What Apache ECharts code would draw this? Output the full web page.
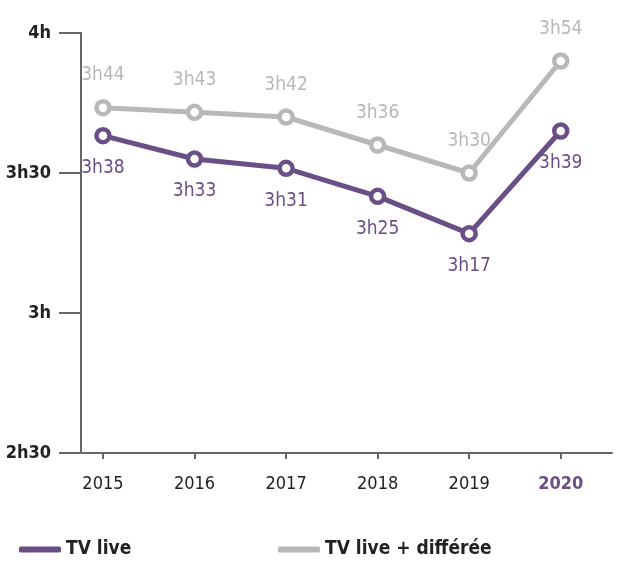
<!DOCTYPE html>
<html>
<head>
<meta charset="utf-8">
<style>
  html, body { margin: 0; padding: 0; background: #fff; }
  #chart { width: 619px; height: 568px; }
</style>
<script src="https://cdn.jsdelivr.net/npm/echarts@6/dist/echarts.min.js"></script>
</head>
<body>
<div id="chart"></div>
<script>
// Daily TV viewing time, in minutes per day
const years = [2015, 2016, 2017, 2018, 2019, 2020];
const tvLive = [218, 213, 211, 205, 197, 219];
const tvLiveReplay = [224, 223, 222, 216, 210, 234];

const PURPLE = '#6a4f86';
const GREY = '#b8b8b8';
const FONT = '"Liberation Sans Narrow", "DejaVu Sans Condensed", sans-serif';

function fmtTime(v) {
  const h = Math.floor(v / 60);
  const m = Math.round(v - h * 60);
  return m ? h + 'h' + String(m).padStart(2, '0') : h + 'h';
}

const chart = echarts.init(document.getElementById('chart'));

function lineSeries(name, values, color, labelPos) {
  return {
    name: name,
    type: 'line',
    data: years.map((y, i) => [y, values[i]]),
    symbol: 'circle',
    symbolSize: 13,
    lineStyle: { color: color, width: 5 },
    itemStyle: { color: '#fff', borderColor: color, borderWidth: 4.5 },
    label: {
      show: true,
      position: labelPos,
      distance: 14,
      formatter: p => fmtTime(p.value[1]),
      color: color,
      fontFamily: FONT,
      fontSize: 19
    },
    emphasis: { disabled: true },
    animation: false
  };
}

const legendText = { fontFamily: FONT, fontSize: 19, fontWeight: 'bold', color: '#222' };

chart.setOption({
  backgroundColor: '#fff',
  grid: { left: 81, right: 7, top: 33, bottom: 115 },
  xAxis: {
    type: 'value',
    min: 2014.76,
    max: 2020.56,
    axisLine: { show: true, lineStyle: { color: '#666', width: 2 } },
    axisTick: { show: true, customValues: years, length: 6, lineStyle: { color: '#666', width: 2 } },
    axisLabel: {
      customValues: years,
      margin: 22,
      fontFamily: FONT,
      fontSize: 18,
      color: '#222',
      formatter: v => (v === years[years.length - 1] ? '{last|' + v + '}' : String(v)),
      rich: { last: { color: PURPLE, fontWeight: 'bold', fontFamily: FONT, fontSize: 18 } }
    },
    splitLine: { show: false }
  },
  yAxis: {
    type: 'value',
    min: 150,
    max: 240,
    interval: 30,
    axisLine: { show: true, lineStyle: { color: '#666', width: 2 } },
    axisTick: { show: true, length: 22, lineStyle: { color: '#666', width: 2 } },
    axisLabel: {
      margin: 30,
      fontFamily: FONT,
      fontSize: 18,
      fontWeight: 'bold',
      color: '#222',
      formatter: v => fmtTime(v)
    },
    splitLine: { show: false }
  },
  legend: [
    {
      data: ['TV live'],
      left: 14, bottom: 4,
      icon: 'roundRect', itemWidth: 42, itemHeight: 6, itemGap: 12,
      itemStyle: { color: PURPLE, borderWidth: 0 },
      lineStyle: { width: 0 },
      textStyle: legendText
    },
    {
      data: ['TV live + différée'],
      left: 273, bottom: 4,
      icon: 'roundRect', itemWidth: 42, itemHeight: 6, itemGap: 12,
      itemStyle: { color: GREY, borderWidth: 0 },
      lineStyle: { width: 0 },
      textStyle: legendText
    }
  ],
  series: [
    lineSeries('TV live + différée', tvLiveReplay, GREY, 'top'),
    lineSeries('TV live', tvLive, PURPLE, 'bottom')
  ]
});
</script>
</body>
</html>
